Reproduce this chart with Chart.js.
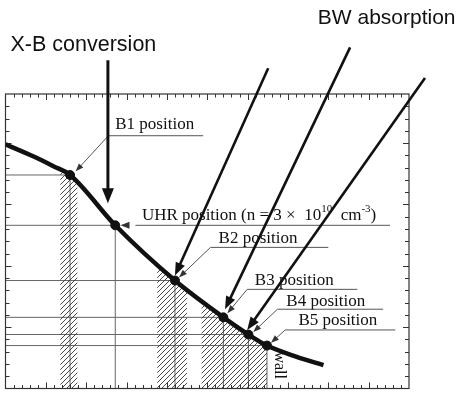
<!DOCTYPE html>
<html>
<head>
<meta charset="utf-8">
<script src="https://cdn.jsdelivr.net/npm/chart.js@4.4.1/dist/chart.umd.min.js"></script>
<style>
  html, body { margin: 0; padding: 0; background: #fff; }
  #wrap { width: 459px; height: 394px; position: relative; }
</style>
</head>
<body>
<div id="wrap"><canvas id="profile" width="459" height="394"></canvas></div>
<script>
  // density profile along the launch path (arb. units)
  const radius  = [0, 3.5, 6, 8, 13.6, 21, 27, 30.1, 32.4, 36, 39.4];
  const density = [19.9, 18.9, 18.1, 17.4, 13.3, 8.8, 5.8, 4.4, 3.5, 2.6, 1.9];

  // marked positions on the profile
  const positionNames   = ['B1', 'UHR', 'B2', 'B3', 'B4', 'B5'];
  const positionRadius  = [8, 13.6, 21, 27, 30.1, 32.4];
  const positionDensity = [17.4, 13.3, 8.8, 5.8, 4.4, 3.5];

  // hatched windows under the profile
  const bandStart = [6.8, 18.8, 24.3];
  const bandEnd   = [8.9, 22.5, 32.4];

  const xRange = [0, 50];
  const yRange = [0, 24];

  // callout layout, in axis units
  const callouts = [
    { label: 'B1 position', tx: 13.6, ty: 21.5, ux0: 12.75, ux1: 24.5, uy: 20.6, tip: [8.7, 17.7] },
    { label: 'B2 position', tx: 26.4, ty: 12.2, ux0: 25.4, ux1: 40.0, uy: 11.5, tip: [21.5, 9.05] },
    { label: 'B3 position', tx: 30.9, ty: 8.8, ux0: 29.95, ux1: 43.6, uy: 8.08, tip: [27.5, 6.14] },
    { label: 'B4 position', tx: 34.8, ty: 7.1, ux0: 33.7, ux1: 46.8, uy: 6.46, tip: [30.7, 4.6] },
    { label: 'B5 position', tx: 36.3, ty: 5.5, ux0: 34.65, ux1: 48.3, uy: 4.77, tip: [32.9, 3.72] }
  ];
  const bwLines = [
    [32.55, 26.1, 21.0, 9.2],
    [42.7, 27.8, 27.2, 6.45],
    [51.98, 25.3, 29.95, 4.77]
  ];

  function hatchPattern() {
    const c = document.createElement('canvas');
    c.width = 5; c.height = 5;
    const g = c.getContext('2d');
    g.strokeStyle = '#333';
    g.lineWidth = 0.9;
    g.beginPath();
    g.moveTo(-1, 6); g.lineTo(6, -1);
    g.moveTo(-1, 1); g.lineTo(1, -1);
    g.moveTo(4, 6); g.lineTo(6, 4);
    g.stroke();
    return g.createPattern(c, 'repeat');
  }

  function head(ctx, x0, y0, x1, y1, len, half) {
    const a = Math.atan2(y1 - y0, x1 - x0);
    const c = Math.cos(a), s = Math.sin(a);
    ctx.beginPath();
    ctx.moveTo(x1, y1);
    ctx.lineTo(x1 - len * c + half * s, y1 - len * s - half * c);
    ctx.lineTo(x1 - len * c - half * s, y1 - len * s + half * c);
    ctx.closePath();
    ctx.fill();
  }

  function arrow(ctx, x0, y0, x1, y1, width, len, half) {
    const a = Math.atan2(y1 - y0, x1 - x0);
    ctx.lineWidth = width;
    ctx.beginPath();
    ctx.moveTo(x0, y0);
    ctx.lineTo(x1 - len * 0.7 * Math.cos(a), y1 - len * 0.7 * Math.sin(a));
    ctx.stroke();
    head(ctx, x0, y0, x1, y1, len, half);
  }

  // datasets are drawn last index first, and the filler paints inside
  // beforeDatasetDraw, so the band clip is opened one hook earlier and
  // closed once the hatched fill (last dataset) is done
  const HATCH = 2;
  const bandClip = {
    id: 'bandClip',
    beforeDatasetsDraw(chart) {
      const { ctx, chartArea, scales } = chart;
      ctx.save();
      ctx.beginPath();
      bandStart.forEach((s, i) => {
        const a = scales.x.getPixelForValue(s);
        const b = scales.x.getPixelForValue(bandEnd[i]);
        ctx.rect(a, chartArea.top, b - a, chartArea.bottom - chartArea.top);
      });
      ctx.clip();
    },
    afterDatasetDraw(chart, args) {
      if (args.index === HATCH) chart.ctx.restore();
    }
  };

  const frame = {
    id: 'frame',
    beforeDatasetsDraw(chart) {
      const { ctx, chartArea: ca, scales: { x, y } } = chart;
      ctx.save();
      // guide lines to each marked position
      ctx.strokeStyle = '#666';
      ctx.lineWidth = 1;
      positionRadius.forEach((r, i) => {
        const px = x.getPixelForValue(r), py = y.getPixelForValue(positionDensity[i]);
        ctx.beginPath();
        ctx.moveTo(ca.left, py); ctx.lineTo(px, py);
        ctx.moveTo(px, py); ctx.lineTo(px, ca.bottom);
        ctx.stroke();
      });
      // frame and inward ticks
      ctx.strokeStyle = '#333';
      ctx.lineWidth = 1.2;
      ctx.strokeRect(ca.left, ca.top, ca.right - ca.left, ca.bottom - ca.top);
      ctx.lineWidth = 1;
      ctx.beginPath();
      for (let v = xRange[0] + 1; v < xRange[1]; v++) {
        const px = Math.round(x.getPixelForValue(v)) + 0.5;
        const l = v % 5 === 0 ? 6 : 3.5;
        ctx.moveTo(px, ca.top); ctx.lineTo(px, ca.top + l);
        ctx.moveTo(px, ca.bottom); ctx.lineTo(px, ca.bottom - l);
      }
      for (let v = yRange[0] + 1; v < yRange[1]; v++) {
        const py = Math.round(y.getPixelForValue(v)) + 0.5;
        const l = v % 5 === 0 ? 6 : 4;
        ctx.moveTo(ca.left, py); ctx.lineTo(ca.left + l, py);
        ctx.moveTo(ca.right, py); ctx.lineTo(ca.right - l, py);
      }
      ctx.stroke();
      ctx.restore();
    },
    afterDatasetsDraw(chart) {
      const { ctx, scales: { x, y } } = chart;
      const X = v => x.getPixelForValue(v), Y = v => y.getPixelForValue(v);
      const serif = px => px + 'px "Liberation Serif", "Times New Roman", serif';
      ctx.save();
      ctx.fillStyle = '#111';
      ctx.strokeStyle = '#555';
      ctx.textBaseline = 'middle';
      ctx.font = serif(17);

      // B-position callouts
      callouts.forEach(c => {
        ctx.fillText(c.label, X(c.tx), Y(c.ty));
        ctx.lineWidth = 1;
        ctx.beginPath();
        ctx.moveTo(X(c.ux0), Y(c.uy)); ctx.lineTo(X(c.ux1), Y(c.uy));
        ctx.stroke();
        ctx.fillStyle = '#333';
        arrow(ctx, X(c.ux0), Y(c.uy), X(c.tip[0]), Y(c.tip[1]), 1, 8, 3);
        ctx.fillStyle = '#111';
      });

      // UHR callout
      const uy = Y(positionDensity[1]);
      ctx.lineWidth = 1;
      ctx.beginPath();
      ctx.moveTo(X(16.1), uy); ctx.lineTo(X(47.65), uy);
      ctx.stroke();
      ctx.fillStyle = '#333';
      head(ctx, X(16.1), uy, X(14.25), uy, 9, 3.5);
      ctx.fillStyle = '#111';
      let tx = X(16.9);
      const ty = Y(14.1);
      const put = (s, f, dy) => { ctx.font = f; ctx.fillText(s, tx, ty + dy); tx += ctx.measureText(s).width; };
      put('UHR position (n = 3 \u00d7  10', serif(17), 0);
      put('10', serif(11), -6);
      put('  cm', serif(17), 0);
      put('-3', serif(11), -6);
      put(')', serif(17), 0);

      // wall marker
      ctx.save();
      ctx.font = serif(16);
      ctx.translate(X(33.9), Y(1.9));
      ctx.rotate(Math.PI / 2);
      ctx.textAlign = 'center';
      ctx.fillText('wall', 0, 0);
      ctx.restore();

      // X-B conversion arrow
      ctx.fillStyle = '#111';
      ctx.strokeStyle = '#111';
      arrow(ctx, X(12.69), Y(26.75), X(12.69), Y(15.1), 3, 15, 6);
      ctx.textAlign = 'left';
      ctx.font = '21.5px "Liberation Sans", Arial, sans-serif';
      ctx.fillText('X-B conversion', X(0.62), Y(28.0));

      // BW absorption arrows
      bwLines.forEach(l => arrow(ctx, X(l[0]), Y(l[1]), X(l[2]), Y(l[3]), 2.6, 13, 5));
      ctx.font = '21px "Liberation Sans", Arial, sans-serif';
      ctx.fillText('BW absorption', X(38.7), Y(30.2));
      ctx.restore();
    }
  };

  const curve = radius.map((r, i) => ({ x: r, y: density[i] }));

  new Chart(document.getElementById('profile'), {
    type: 'scatter',
    data: {
      datasets: [
        {
          // marked positions, drawn on top
          data: positionRadius.map((r, i) => ({ x: r, y: positionDensity[i], name: positionNames[i] })),
          pointRadius: 4.5,
          pointBackgroundColor: '#111',
          pointBorderColor: '#111',
          showLine: false
        },
        {
          // density profile
          data: curve,
          showLine: true,
          borderColor: '#111',
          borderWidth: 4.5,
          pointRadius: 0,
          cubicInterpolationMode: 'monotone'
        },
        {
          // hatched area under the profile (clipped to the windows)
          data: curve,
          showLine: true,
          fill: 'origin',
          backgroundColor: hatchPattern(),
          borderWidth: 0,
          pointRadius: 0,
          cubicInterpolationMode: 'monotone'
        }
      ]
    },
    options: {
      responsive: false,
      animation: false,
      events: [],
      layout: { padding: { left: 5, top: 94, right: 50, bottom: 3 } },
      scales: {
        x: { type: 'linear', min: xRange[0], max: xRange[1], display: false },
        y: { type: 'linear', min: yRange[0], max: yRange[1], display: false }
      },
      plugins: { legend: { display: false }, tooltip: { enabled: false } }
    },
    plugins: [frame, bandClip]
  });
</script>
</body>
</html>
